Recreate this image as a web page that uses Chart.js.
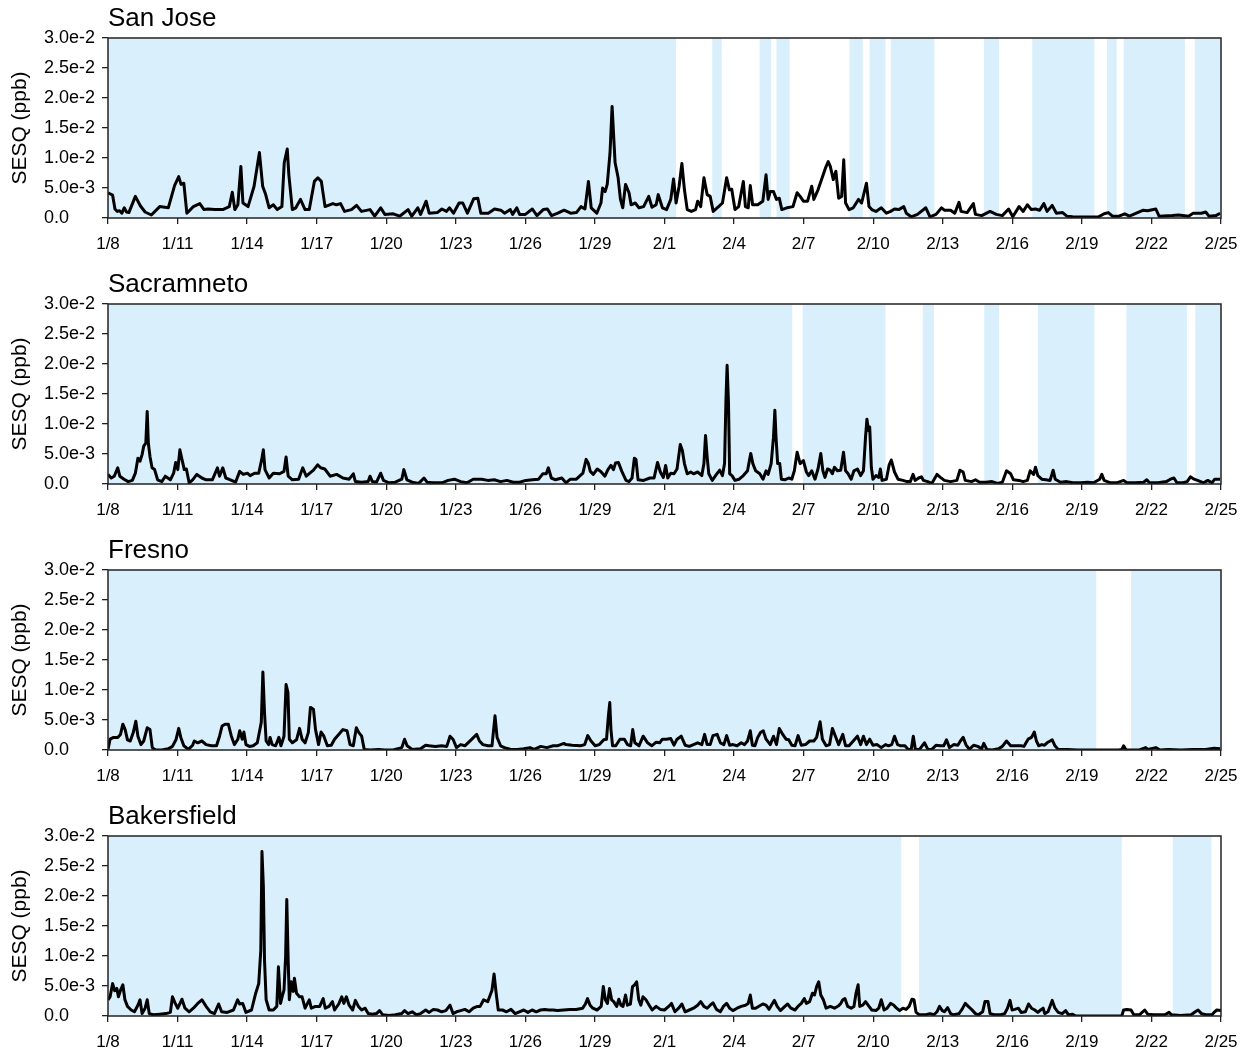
<!DOCTYPE html>
<html>
<head>
<meta charset="utf-8">
<script src="https://cdn.jsdelivr.net/npm/chart.js@4.4.1/dist/chart.umd.min.js"></script>
<style>
  html, body { margin: 0; padding: 0; background: #fff; overflow: hidden; width: 1250px; height: 1057px; }
  canvas.panel { position: absolute; left: 0; }
</style>
</head>
<body>
<script>
// SESQ time series at four Central Valley / Bay Area sites.
// Each point: [days since 1/8 00:00, SESQ in units of 1e-3 ppb]
const dateLabels = ['1/8','1/11','1/14','1/17','1/20','1/23','1/26','1/29','2/1','2/4','2/7','2/10','2/13','2/16','2/19','2/22','2/25'];
const yLabels = ['0.0','5.0e-3','1.0e-2','1.5e-2','2.0e-2','2.5e-2','3.0e-2'];
const siteNames = ['San Jose', 'Sacramneto', 'Fresno', 'Bakersfield'];
const yAxisTitle = 'SESQ (ppb)';

const sanJose = [
  [0,4.2],[0.1,4.0],[0.2,3.8],[0.3,1.5],[0.4,1.1],[0.5,1.2],[0.6,0.8],[0.7,1.7],[0.8,1.0],[0.9,0.9],
  [1.18,3.6],[1.4,2.0],[1.6,1.0],[1.87,0.5],[2.23,1.9],[2.6,1.7],[2.87,5.4],[3.05,6.9],[3.15,5.6],[3.27,5.8],
  [3.4,0.8],[3.68,1.9],[3.96,2.4],[4.14,1.4],[4.32,1.5],[4.6,1.4],[4.95,1.4],[5.23,1.9],[5.36,4.3],[5.47,1.4],
  [5.6,2.2],[5.73,8.6],[5.82,2.5],[6.04,1.9],[6.3,5.3],[6.53,10.9],[6.67,5.3],[6.8,3.9],[6.95,1.7],[7.13,2.2],
  [7.3,1.4],[7.5,1.9],[7.6,9.2],[7.73,11.5],[7.8,7.2],[7.95,1.4],[8.1,1.7],[8.3,3.1],[8.5,1.4],[8.68,1.4],
  [8.9,6.1],[9.05,6.7],[9.2,6.1],[9.36,1.9],[9.7,2.4],[9.85,2.2],[10.03,2.4],[10.2,1.1],[10.5,1.4],[10.72,2.1],
  [10.93,1.1],[11.3,1.4],[11.5,0.3],[11.76,1.7],[11.94,0.6],[12.3,0.7],[12.58,0.3],[12.94,1.4],[13.1,0.3],[13.36,1.7],
  [13.48,0.6],[13.72,2.8],[13.85,0.8],[14.2,0.9],[14.4,1.5],[14.6,1.1],[14.73,1.7],[14.9,0.8],[15.14,2.5],[15.3,2.5],
  [15.5,0.8],[15.77,3.2],[15.95,3.3],[16.08,0.8],[16.4,0.8],[16.67,1.5],[16.94,1.3],[17.1,0.8],[17.35,1.4],[17.45,0.6],
  [17.63,1.7],[17.75,0.6],[18.0,0.6],[18.3,1.5],[18.5,0.4],[18.77,1.4],[18.95,1.5],[19.13,0.4],[19.4,0.8],[19.67,1.3],
  [19.95,0.8],[20.2,0.9],[20.4,1.9],[20.57,1.5],[20.72,6.1],[20.84,1.7],[21.08,0.8],[21.26,2.5],[21.33,5.0],[21.44,4.4],
  [21.53,5.6],[21.65,10.8],[21.74,18.6],[21.8,14.2],[21.87,9.2],[22.0,6.7],[22.1,3.1],[22.2,1.7],[22.32,5.6],[22.47,4.2],
  [22.56,2.2],[22.74,2.5],[22.9,1.7],[23.1,1.9],[23.32,3.6],[23.46,1.8],[23.64,2.2],[23.73,3.9],[23.91,1.7],[24.09,1.4],
  [24.27,3.1],[24.39,6.5],[24.5,2.5],[24.63,5.3],[24.75,9.1],[24.86,4.7],[24.98,1.4],[25.16,1.1],[25.34,1.4],[25.43,2.8],
  [25.56,1.9],[25.7,6.7],[25.84,3.9],[25.97,3.6],[26.1,1.1],[26.33,1.9],[26.5,2.5],[26.68,6.7],[26.8,4.7],[26.9,4.8],
  [27.04,1.4],[27.2,1.9],[27.4,6.1],[27.49,1.9],[27.61,1.7],[27.7,5.4],[27.8,2.2],[28.02,2.2],[28.24,2.8],[28.38,7.2],
  [28.47,3.1],[28.56,4.4],[28.7,4.4],[28.83,3.1],[28.95,3.3],[29.06,1.4],[29.28,1.7],[29.54,1.9],[29.72,4.2],[29.85,3.6],
  [29.99,2.8],[30.17,2.8],[30.35,5.3],[30.44,3.1],[30.62,4.7],[30.8,6.7],[30.94,8.3],[31.06,9.4],[31.15,8.6],[31.28,6.4],
  [31.39,7.8],[31.51,3.3],[31.64,3.6],[31.73,9.7],[31.81,2.5],[31.96,1.4],[32.14,1.7],[32.37,3.1],[32.5,2.5],[32.71,5.8],
  [32.82,1.9],[32.94,1.4],[33.12,1.1],[33.35,1.7],[33.57,0.8],[33.75,1.1],[33.92,1.5],[34.1,1.4],[34.32,1.9],[34.43,0.8],
  [34.64,0.2],[34.91,0.6],[35.27,1.7],[35.45,0.2],[35.71,0.6],[35.95,1.7],[36.07,1.3],[36.34,1.3],[36.52,0.8],[36.7,2.6],
  [36.79,1.1],[37.05,0.9],[37.32,2.4],[37.41,0.6],[37.68,0.4],[38.04,1.1],[38.31,0.6],[38.57,0.4],[38.84,1.5],[39.02,0.2],
  [39.29,1.9],[39.47,1.1],[39.65,2.2],[39.82,1.4],[40.0,1.5],[40.18,1.3],[40.36,2.4],[40.5,1.1],[40.72,2.1],[40.9,0.8],
  [41.17,0.9],[41.35,0.3],[41.6,0.2],[42.2,0.15],[42.7,0.15],[42.96,0.7],[43.14,0.9],[43.32,0.3],[43.6,0.3],[43.85,0.7],
  [44.05,0.3],[44.65,1.3],[44.83,1.2],[45.19,1.5],[45.33,0.3],[45.9,0.4],[46.17,0.5],[46.6,0.3],[46.8,0.8],[47.16,0.8],
  [47.34,1.0],[47.48,0.3],[47.78,0.4],[47.96,0.8]
];

const sacramento = [
  [0,1.6],[0.14,1.0],[0.27,1.3],[0.42,2.7],[0.51,1.3],[0.69,0.8],[0.87,0.4],[1.05,0.6],[1.18,1.8],[1.29,4.3],
  [1.38,3.8],[1.47,4.9],[1.54,6.3],[1.63,6.8],[1.69,12.1],[1.74,6.8],[1.81,4.6],[1.9,2.7],[2.01,2.4],[2.14,0.7],
  [2.32,0.4],[2.47,1.3],[2.69,0.7],[2.83,1.8],[2.92,3.6],[3.01,2.4],[3.1,5.7],[3.19,4.1],[3.29,2.4],[3.38,2.5],
  [3.5,0.2],[3.65,0.7],[3.83,1.6],[4.05,1.0],[4.23,0.7],[4.5,0.7],[4.72,2.7],[4.81,1.3],[4.95,2.7],[5.08,1.0],
  [5.28,0.7],[5.5,0.3],[5.68,2.1],[5.83,1.6],[6.01,1.8],[6.13,1.4],[6.32,1.8],[6.5,1.8],[6.63,4.1],[6.7,5.7],
  [6.77,2.4],[6.95,1.0],[7.13,1.8],[7.4,1.7],[7.59,2.1],[7.68,4.5],[7.77,1.3],[7.95,0.7],[8.22,0.8],[8.4,2.7],
  [8.55,1.3],[8.73,1.9],[8.86,2.3],[9.04,3.2],[9.17,2.7],[9.35,2.5],[9.58,1.3],[9.86,1.6],[10.13,1.0],[10.4,0.8],
  [10.58,1.7],[10.67,0.4],[10.94,0.3],[11.22,0.4],[11.3,1.3],[11.4,0.4],[11.58,0.3],[11.76,1.8],[11.88,0.6],[12.12,0.2],
  [12.39,0.3],[12.67,0.8],[12.76,2.4],[12.89,0.7],[13.12,0.3],[13.4,0.1],[13.63,1.0],[13.76,0.3],[14.03,0.2],[14.4,0.2],
  [14.67,0.6],[14.94,0.8],[15.21,0.4],[15.48,0.2],[15.75,0.8],[16.11,0.8],[16.38,0.6],[16.66,0.7],[16.93,0.4],[17.2,0.6],
  [17.48,0.3],[17.75,0.3],[18.02,0.6],[18.3,0.7],[18.57,0.8],[18.75,1.7],[18.9,1.7],[18.99,2.7],[19.12,1.0],[19.3,0.7],
  [19.57,1.0],[19.75,0.2],[19.94,0.8],[20.2,0.8],[20.48,1.8],[20.62,4.1],[20.71,3.5],[20.8,2.1],[20.93,1.6],[21.1,2.5],
  [21.25,2.1],[21.43,1.3],[21.56,2.4],[21.69,3.1],[21.8,2.4],[21.89,3.5],[22.01,3.6],[22.16,2.1],[22.34,0.6],[22.47,0.4],
  [22.6,1.0],[22.7,4.3],[22.77,4.1],[22.86,0.7],[23.1,0.6],[23.37,1.0],[23.55,1.0],[23.7,3.6],[23.82,2.0],[23.95,1.1],
  [24.05,3.1],[24.14,1.0],[24.27,1.8],[24.41,1.7],[24.54,2.5],[24.68,6.6],[24.77,5.6],[24.86,3.4],[24.98,1.7],[25.13,2.0],
  [25.25,1.7],[25.43,2.0],[25.61,1.4],[25.7,3.4],[25.77,8.1],[25.84,4.5],[25.91,1.7],[26.06,0.6],[26.24,1.6],[26.38,2.3],
  [26.5,1.4],[26.59,3.4],[26.65,14.0],[26.7,19.8],[26.76,13.4],[26.81,1.7],[26.91,1.4],[27.04,0.6],[27.22,0.8],[27.4,1.4],
  [27.58,2.2],[27.72,5.1],[27.81,3.4],[27.93,2.2],[28.11,1.7],[28.25,0.8],[28.38,2.2],[28.47,1.6],[28.6,3.4],[28.7,7.8],
  [28.76,12.3],[28.81,7.8],[28.88,3.4],[28.97,3.4],[29.04,0.8],[29.19,0.7],[29.36,1.0],[29.49,0.8],[29.6,2.2],[29.72,5.3],
  [29.85,3.4],[29.99,3.9],[30.12,2.0],[30.22,1.4],[30.35,2.2],[30.49,0.8],[30.62,2.5],[30.74,5.1],[30.83,2.2],[30.92,1.1],
  [31.03,2.5],[31.15,2.3],[31.24,1.7],[31.33,2.8],[31.46,2.2],[31.6,2.3],[31.72,5.3],[31.81,2.2],[31.92,1.7],[32.05,0.8],
  [32.17,2.2],[32.32,2.5],[32.46,1.4],[32.58,2.2],[32.67,7.8],[32.73,10.8],[32.8,8.9],[32.85,9.5],[32.92,2.8],[32.99,0.8],
  [33.12,1.4],[33.24,1.1],[33.31,2.5],[33.38,0.6],[33.57,0.8],[33.69,3.2],[33.78,4.0],[33.92,2.0],[34.07,0.8],[34.28,0.6],
  [34.46,0.4],[34.6,0.4],[34.72,1.6],[34.81,0.6],[34.96,1.0],[35.08,1.2],[35.17,0.6],[35.35,0.4],[35.53,0.1],[35.75,1.6],
  [35.9,1.1],[36.07,0.6],[36.34,0.4],[36.61,0.6],[36.74,2.3],[36.88,2.0],[36.97,0.6],[37.24,0.4],[37.41,0.7],[37.59,0.3],
  [37.86,0.3],[38.13,0.4],[38.36,0.1],[38.57,0.3],[38.75,2.2],[38.93,1.7],[39.05,0.7],[39.29,0.6],[39.47,0.4],[39.65,0.6],
  [39.77,2.2],[39.92,1.6],[40.0,2.8],[40.1,1.4],[40.27,0.8],[40.45,0.7],[40.63,0.6],[40.76,2.3],[40.85,0.8],[41.08,0.3],
  [41.35,0.4],[41.62,0.2],[41.97,0.2],[42.24,0.3],[42.5,0.2],[42.77,0.8],[42.86,1.6],[42.96,0.6],[43.23,0.2],[43.5,0.2],
  [43.8,0.6],[43.94,0.2],[44.3,0.2],[44.66,0.3],[44.8,0.7],[44.92,0.2],[45.28,0.2],[45.64,0.4],[45.82,0.8],[45.97,1.0],
  [46.1,0.2],[46.36,0.2],[46.54,0.4],[46.68,1.2],[46.84,0.8],[46.99,0.6],[47.25,0.2],[47.43,0.6],[47.61,0.2],[47.73,0.8],
  [47.96,0.8]
];

const fresno = [
  [0,0.1],[0.09,1.8],[0.24,2.1],[0.42,2.1],[0.54,2.6],[0.64,4.3],[0.74,3.4],[0.84,1.7],[0.96,1.5],[1.09,2.9],
  [1.2,4.8],[1.29,2.3],[1.42,0.9],[1.54,1.5],[1.69,3.7],[1.81,3.4],[1.91,0.4],[2.05,0],[2.32,0],[2.6,0.2],
  [2.78,0.6],[2.93,1.7],[3.05,3.6],[3.14,2.1],[3.27,0.7],[3.47,0.1],[3.65,0.8],[3.72,1.5],[3.87,1.2],[4.05,1.5],
  [4.23,0.9],[4.46,0.7],[4.68,0.7],[4.81,2.3],[4.92,4.0],[5.05,4.3],[5.19,4.3],[5.32,2.3],[5.45,0.9],[5.6,1.8],
  [5.68,3.2],[5.79,1.8],[5.86,3.0],[5.95,0.9],[6.1,0.6],[6.26,0.7],[6.44,1.2],[6.61,4.6],[6.68,13.0],[6.75,6.2],
  [6.82,1.5],[6.93,0.9],[6.99,2.1],[7.08,0.9],[7.23,0.7],[7.37,2.1],[7.46,0.7],[7.59,2.3],[7.68,10.9],[7.76,9.6],
  [7.82,1.8],[7.95,1.2],[8.13,1.7],[8.26,3.6],[8.37,1.8],[8.5,1.2],[8.64,2.9],[8.73,7.1],[8.86,6.8],[8.95,3.4],
  [9.08,0.9],[9.19,3.0],[9.31,2.3],[9.46,0.7],[9.63,0.8],[9.77,1.8],[9.95,2.6],[10.13,3.4],[10.31,3.2],[10.44,0.9],
  [10.58,0.7],[10.71,3.7],[10.82,2.9],[10.94,2.3],[11.05,0.1],[11.3,0],[11.67,0.1],[11.94,0],[12.3,0],[12.67,0.4],
  [12.79,1.8],[12.9,0.7],[13.12,0.1],[13.48,0.2],[13.7,0.8],[13.85,0.7],[14.12,0.6],[14.39,0.7],[14.61,0.6],[14.75,2.3],
  [14.88,1.8],[15.03,0.4],[15.21,0.9],[15.39,0.7],[15.66,1.7],[15.9,2.6],[16.02,1.5],[16.17,0.9],[16.38,0.7],[16.56,0.7],
  [16.69,5.7],[16.78,2.1],[16.93,0.7],[17.1,0.4],[17.38,0.1],[17.66,0.1],[17.93,0.2],[18.2,0.4],[18.38,0.1],[18.66,0.6],
  [18.93,0.4],[19.2,0.7],[19.38,0.7],[19.66,1.1],[19.75,0.9],[20.02,0.8],[20.38,0.7],[20.56,0.9],[20.69,2.4],[20.83,1.5],
  [21.01,0.7],[21.19,0.9],[21.38,1.7],[21.5,1.8],[21.58,5.7],[21.64,7.9],[21.69,3.4],[21.76,0.7],[21.9,0.7],[22.08,1.8],
  [22.27,1.8],[22.4,0.9],[22.54,0.7],[22.63,3.4],[22.72,1.2],[22.9,0.7],[23.08,2.3],[23.27,1.2],[23.45,0.7],[23.64,1.3],
  [23.79,1.2],[23.91,1.8],[24.09,1.8],[24.27,1.9],[24.41,0.8],[24.54,1.8],[24.72,2.3],[24.89,0.8],[25.07,0.6],[25.25,0.9],
  [25.43,1.2],[25.61,0.9],[25.73,2.6],[25.84,0.9],[25.97,0.9],[26.09,2.4],[26.27,2.6],[26.41,1.2],[26.56,0.9],[26.68,2.4],
  [26.81,0.8],[26.95,0.9],[27.13,0.7],[27.31,1.2],[27.45,0.9],[27.58,1.5],[27.7,3.2],[27.79,0.8],[27.9,0.7],[28.02,2.1],
  [28.14,2.9],[28.26,3.2],[28.38,1.8],[28.56,0.9],[28.7,2.3],[28.83,0.9],[28.95,3.6],[29.1,2.6],[29.24,1.8],[29.36,1.7],
  [29.49,0.8],[29.63,0.7],[29.76,2.4],[29.9,0.8],[30.08,0.9],[30.26,1.5],[30.44,1.5],[30.56,2.1],[30.71,4.7],[30.81,1.8],
  [30.97,0.7],[31.12,0.9],[31.24,3.6],[31.37,2.3],[31.51,0.9],[31.69,2.6],[31.81,0.7],[31.96,0.7],[32.14,1.5],[32.32,2.3],
  [32.46,0.9],[32.58,2.3],[32.71,0.9],[32.85,1.8],[32.99,0.8],[33.17,0.9],[33.35,0.4],[33.53,0.9],[33.66,0.7],[33.8,0.9],
  [33.92,2.3],[34.05,0.9],[34.19,0.7],[34.37,0.7],[34.51,0.1],[34.64,0.1],[34.73,2.3],[34.82,0.1],[35.0,0.1],[35.21,1.2],
  [35.36,0.1],[35.53,0.1],[35.71,0.8],[35.89,0.7],[36.04,0.7],[36.16,1.7],[36.29,0.4],[36.47,0.9],[36.65,0.8],[36.76,1.5],
  [36.88,2.1],[37.01,0.8],[37.15,0.1],[37.33,0.8],[37.51,0.6],[37.68,0.2],[37.77,1.1],[37.9,0.1],[38.13,0],[38.4,0.2],
  [38.57,0.6],[38.75,1.5],[38.93,0.7],[39.11,0.7],[39.38,0.7],[39.5,0.6],[39.68,1.8],[39.83,2.1],[39.95,3.0],[40.04,1.5],
  [40.14,0.7],[40.27,0.9],[40.39,0.8],[40.5,1.2],[40.72,1.7],[40.84,0.7],[40.98,0.1],[41.35,0.1],[41.8,0],[42.33,0],
  [43.59,0],[43.73,0.1],[43.8,0.7],[43.91,0],[44.48,0],[44.75,0.4],[44.84,0.1],[45.19,0.4],[45.37,0],[45.73,0.1],
  [46.27,0],[46.8,0.1],[47.34,0.1],[47.7,0.3],[47.96,0.2]
];

const bakersfield = [
  [0,2.7],[0.09,3.2],[0.2,5.4],[0.29,4.2],[0.38,4.6],[0.45,3.2],[0.54,4.3],[0.64,5.2],[0.73,2.7],[0.84,1.6],
  [1.0,1.0],[1.14,0.7],[1.29,1.8],[1.38,2.7],[1.47,0.4],[1.6,1.3],[1.69,2.7],[1.78,0.4],[1.96,0.2],[2.23,0.3],
  [2.5,0.4],[2.69,0.6],[2.78,3.2],[2.9,2.1],[3.01,1.3],[3.19,2.8],[3.32,1.3],[3.5,0.7],[3.68,1.3],[3.87,2.1],
  [4.05,2.7],[4.23,1.6],[4.41,0.7],[4.59,0.4],[4.77,2.0],[4.9,0.7],[5.14,0.6],[5.41,1.0],[5.59,2.7],[5.68,2.0],
  [5.81,2.1],[5.95,0.6],[6.19,1.0],[6.37,3.8],[6.5,5.4],[6.59,11.0],[6.64,27.4],[6.7,21.6],[6.75,9.3],[6.82,2.7],
  [6.95,1.0],[7.13,1.0],[7.28,1.6],[7.35,8.2],[7.44,2.1],[7.53,3.5],[7.59,4.3],[7.66,9.9],[7.71,19.4],[7.77,9.3],
  [7.82,2.7],[7.9,5.7],[7.99,4.1],[8.04,6.3],[8.13,3.8],[8.26,3.2],[8.37,3.2],[8.5,1.3],[8.68,2.7],[8.77,1.3],
  [8.95,1.6],[9.13,1.6],[9.28,2.9],[9.37,1.3],[9.53,1.6],[9.68,2.4],[9.77,1.0],[9.95,2.0],[10.08,3.2],[10.17,2.1],
  [10.28,3.2],[10.4,1.8],[10.55,1.0],[10.67,2.6],[10.8,1.6],[10.94,1.0],[11.09,1.3],[11.22,0.4],[11.4,0.3],[11.58,0.4],
  [11.71,0.9],[11.85,0.2],[12.12,0.1],[12.39,0.2],[12.67,0.4],[12.79,0.9],[12.94,0.4],[13.12,0.7],[13.3,0.2],[13.48,0.4],
  [13.7,1.0],[13.85,0.6],[14.03,1.1],[14.21,1.0],[14.39,0.7],[14.57,0.9],[14.75,1.8],[14.88,0.4],[15.03,0.7],[15.21,0.9],
  [15.39,1.1],[15.57,0.7],[15.75,1.3],[15.93,1.6],[16.05,1.6],[16.2,2.7],[16.38,2.4],[16.56,4.3],[16.65,7.0],[16.74,3.8],
  [16.83,1.0],[17.01,1.0],[17.19,0.7],[17.38,1.1],[17.56,0.4],[17.74,0.7],[17.93,1.0],[18.11,0.6],[18.29,1.0],[18.47,0.7],
  [18.65,1.0],[18.83,1.1],[19.01,1.0],[19.19,1.0],[19.38,0.9],[19.65,1.0],[19.92,1.1],[20.19,1.1],[20.47,1.3],[20.59,2.0],
  [20.68,2.9],[20.79,1.8],[20.91,1.3],[21.09,1.0],[21.27,1.6],[21.36,4.9],[21.45,2.7],[21.54,2.1],[21.63,4.6],[21.72,2.7],
  [21.81,2.4],[21.94,1.6],[22.03,2.8],[22.12,1.8],[22.21,1.6],[22.32,3.5],[22.4,1.8],[22.53,2.0],[22.62,4.9],[22.71,5.2],
  [22.8,5.7],[22.89,2.7],[22.98,1.8],[23.07,3.2],[23.2,2.7],[23.34,1.8],[23.47,1.0],[23.64,1.6],[23.82,1.1],[24.0,1.0],
  [24.18,1.6],[24.3,2.1],[24.45,0.7],[24.63,1.4],[24.75,2.0],[24.89,0.7],[25.07,1.0],[25.25,1.3],[25.43,1.8],[25.56,2.4],
  [25.7,1.6],[25.84,1.3],[25.97,1.8],[26.09,2.2],[26.24,1.1],[26.41,0.7],[26.54,1.6],[26.68,2.1],[26.81,1.3],[26.95,0.9],
  [27.13,1.3],[27.31,1.6],[27.49,1.8],[27.61,2.1],[27.7,3.5],[27.79,1.3],[27.93,1.3],[28.11,1.7],[28.24,2.0],[28.38,1.8],
  [28.51,1.1],[28.61,1.8],[28.74,2.6],[28.86,1.6],[29.0,0.9],[29.19,1.6],[29.31,2.0],[29.45,1.3],[29.63,1.0],[29.78,1.7],
  [29.9,2.1],[30.03,2.9],[30.12,2.1],[30.26,2.4],[30.38,3.8],[30.47,3.5],[30.56,4.9],[30.65,5.7],[30.74,3.5],[30.85,2.7],
  [30.97,1.3],[31.15,1.6],[31.33,1.3],[31.51,1.7],[31.6,2.1],[31.69,2.7],[31.78,2.9],[31.9,1.6],[32.05,1.3],[32.17,1.6],
  [32.26,3.8],[32.35,5.2],[32.42,1.6],[32.55,1.8],[32.67,2.4],[32.82,1.6],[32.94,1.0],[33.12,0.9],[33.24,1.3],[33.35,2.7],
  [33.47,1.0],[33.6,1.3],[33.75,2.1],[33.89,1.8],[34.01,1.3],[34.14,0.9],[34.28,1.3],[34.42,1.1],[34.55,1.6],[34.67,2.8],
  [34.76,2.7],[34.85,0.6],[34.99,0.2],[35.27,0.2],[35.45,0.4],[35.62,0.2],[35.75,0.7],[35.86,1.6],[35.98,0.9],[36.07,0.7],
  [36.21,1.4],[36.34,0.4],[36.46,0.2],[36.7,0.4],[36.83,1.1],[36.97,2.1],[37.1,1.6],[37.24,1.1],[37.41,0.4],[37.54,0.2],
  [37.72,0.7],[37.82,2.4],[37.95,2.4],[38.04,0.4],[38.22,0.2],[38.49,0.2],[38.67,0.4],[38.79,1.3],[38.9,2.6],[38.99,1.0],
  [39.11,1.1],[39.26,1.3],[39.38,0.6],[39.56,0.7],[39.7,2.0],[39.83,1.3],[39.97,1.0],[40.1,0.6],[40.22,1.0],[40.33,1.3],
  [40.4,0.4],[40.54,0.7],[40.72,2.6],[40.84,1.3],[40.98,0.6],[41.15,0.4],[41.3,0.9],[41.42,0.2],[41.6,0.3],[41.74,0],
  [42.69,0],[43.72,0],[43.8,1.0],[43.94,1.1],[44.12,1.0],[44.24,0.2],[44.48,0.2],[44.71,1.0],[44.84,0.3],[45.1,0.2],
  [45.37,0.2],[45.58,0.2],[45.76,0.6],[45.87,0.2],[46.26,0.1],[46.71,0.2],[46.89,0.7],[47.01,1.0],[47.16,0.4],[47.34,0.2],
  [47.61,0.2],[47.7,0.6],[47.82,1.0],[48,0.9]
];

// Shaded periods, [start day, end day] since 1/8 00:00
const sanJoseShade = [[0,24.5],[26.06,26.47],[28.1,28.6],[28.83,29.4],[31.98,32.55],[32.85,33.53],[33.76,35.64],[37.77,38.43],[39.86,42.54],[43.08,43.5],[43.8,46.44],[46.87,48]];
const sacramentoShade = [[0,29.51],[29.96,33.53],[35.14,35.62],[37.79,38.43],[40.11,42.54],[43.92,46.53],[46.89,48]];
const fresnoShade = [[0,42.62],[44.12,48]];
const bakersfieldShade = [[0,34.21],[34.98,43.72],[45.92,47.59]];

const seriesList = [sanJose, sacramento, fresno, bakersfield];
const shadeList = [sanJoseShade, sacramentoShade, fresnoShade, bakersfieldShade];

const FONT = "'Liberation Sans', Arial, sans-serif";
const SHADE = '#d9f0fc';

// Fills the shaded periods behind the series, using the x scale
const shadePlugin = {
  id: 'shadePeriods',
  beforeDatasetsDraw(chart, args, opts) {
    const { ctx, chartArea, scales } = chart;
    ctx.save();
    ctx.fillStyle = SHADE;
    for (const [a, b] of opts.periods || []) {
      const x0 = scales.x.getPixelForValue(a);
      const x1 = scales.x.getPixelForValue(b);
      ctx.fillRect(x0, chartArea.top, x1 - x0, chartArea.bottom - chartArea.top);
    }
    ctx.restore();
  }
};

// Box frame around the plotting area, plus the rotated y-axis title in the left margin
const framePlugin = {
  id: 'plotFrame',
  afterDraw(chart, args, opts) {
    const { ctx, chartArea } = chart;
    ctx.save();
    ctx.strokeStyle = '#222';
    ctx.lineWidth = 1.5;
    ctx.strokeRect(chartArea.left, chartArea.top, chartArea.right - chartArea.left, chartArea.bottom - chartArea.top);
    ctx.translate(opts.titleX, (chartArea.top + chartArea.bottom) / 2);
    ctx.rotate(-Math.PI / 2);
    ctx.fillStyle = '#000';
    ctx.font = `21px ${FONT}`;
    ctx.textAlign = 'center';
    ctx.textBaseline = 'middle';
    ctx.fillText(opts.title, 0, 0);
    ctx.restore();
  }
};

const PANEL_STEP = 266;

siteNames.forEach((name, i) => {
  const top = i * PANEL_STEP;

  const canvas = document.createElement('canvas');
  canvas.className = 'panel';
  canvas.width = 1250;
  canvas.height = PANEL_STEP;
  canvas.style.top = top + 'px';
  canvas.style.width = '1250px';
  canvas.style.height = PANEL_STEP + 'px';
  document.body.appendChild(canvas);

  const points = seriesList[i].map(([t, v]) => ({ x: t, y: v * 1e-3 }));

  new Chart(canvas, {
    type: 'line',
    data: {
      datasets: [{
        label: name,
        data: points,
        borderColor: '#000',
        borderWidth: 3,
        borderJoinStyle: 'round',
        pointRadius: 0,
        tension: 0,
        fill: false
      }]
    },
    plugins: [shadePlugin, framePlugin],
    options: {
      responsive: false,
      animation: false,
      devicePixelRatio: 1,
      events: [],
      layout: { padding: { top: 0, right: 29, bottom: 0, left: 44 } },
      plugins: {
        legend: { display: false },
        tooltip: { enabled: false },
        title: {
          display: true,
          text: name,
          align: 'start',
          fullSize: false,
          color: '#000',
          font: { family: FONT, size: 26, weight: 'normal', lineHeight: 1.2 },
          padding: { top: 3.5, bottom: 3.3 }
        },
        shadePeriods: { periods: shadeList[i] },
        plotFrame: { title: yAxisTitle, titleX: 20 }
      },
      scales: {
        x: {
          type: 'linear',
          min: 0,
          max: 48,
          afterFit: s => { s.height = 48; },
          afterBuildTicks: s => { s.ticks = dateLabels.map((_, k) => ({ value: k * 3 })); },
          border: { display: false },
          grid: { drawOnChartArea: false, drawTicks: true, tickLength: 6, color: '#222', lineWidth: 1.3 },
          ticks: {
            autoSkip: false,
            maxRotation: 0,
            padding: 10,
            color: '#000',
            font: { family: FONT, size: 17 },
            callback: (v, k) => dateLabels[k]
          }
        },
        y: {
          type: 'linear',
          position: 'left',
          min: 0,
          max: 0.03,
          afterFit: s => { s.width = 64; },
          afterBuildTicks: s => { s.ticks = yLabels.map((_, k) => ({ value: k * 0.005 })); },
          border: { display: false },
          grid: { drawOnChartArea: false, drawTicks: true, tickLength: 6, color: '#222', lineWidth: 1.3 },
          ticks: {
            padding: 4,
            crossAlign: 'far',
            color: '#000',
            font: { family: FONT, size: 18 },
            callback: (v, k) => yLabels[k]
          }
        }
      }
    }
  });
});
</script>
</body>
</html>
